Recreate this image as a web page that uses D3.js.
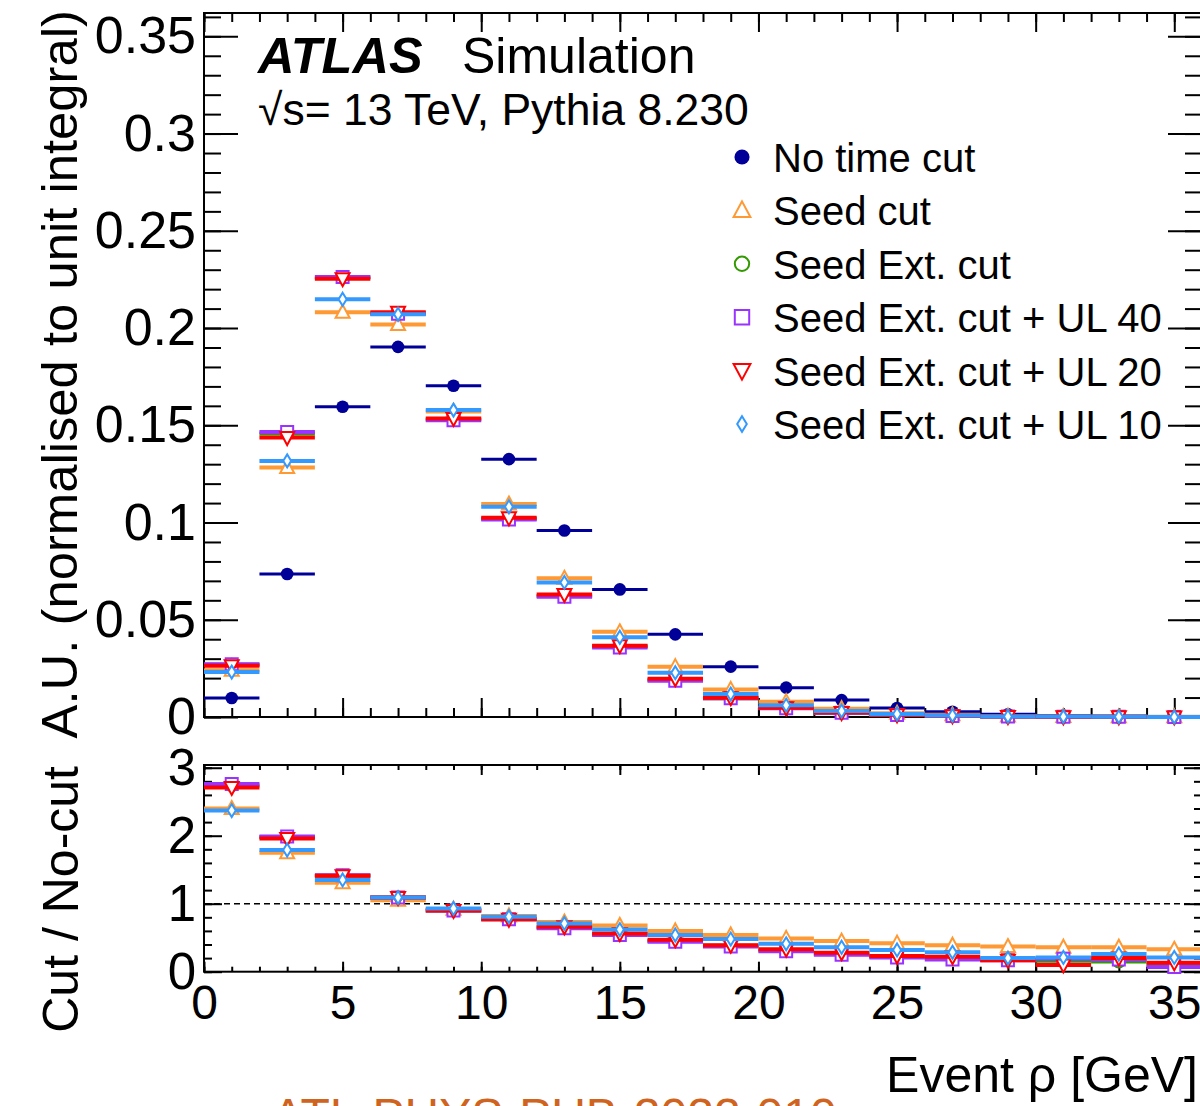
<!DOCTYPE html>
<html>
<head>
<meta charset="utf-8">
<script src="https://cdn.jsdelivr.net/npm/d3@7"></script>
<style>
  html, body { margin: 0; padding: 0; background: #fff; }
  svg { display: block; }
  text { font-family: "Liberation Sans", Arial, Helvetica, sans-serif; }
</style>
</head>
<body>
<svg id="chart" width="1200" height="1106"></svg>
<script>
// ---------------- data ----------------
const binCenters = [1,3,5,7,9,11,13,15,17,19,21,23,25,27,29,31,33,35];
const binWidth = 2;

const seriesNames = ["No time cut", "Seed cut", "Seed Ext. cut", "Seed Ext. cut + UL 40", "Seed Ext. cut + UL 20", "Seed Ext. cut + UL 10"];

const noCut      = [0.0098,0.0735,0.1595,0.1903,0.1703,0.1326,0.0959,0.0656,0.0425,0.0259,0.0151,0.0087,0.0046,0.0027,0.0014,0.0008,0.0004,0.0002];
const seedCut    = [0.0241,0.1283,0.2081,0.2018,0.1571,0.1095,0.0713,0.0438,0.0259,0.0142,0.0079,0.0043,0.0019,0.0011,0.0005,0.0003,0.0001,0.0001];
const seedExt    = [0.0269,0.1458,0.2260,0.2076,0.1530,0.1020,0.0622,0.0362,0.0190,0.0097,0.0046,0.0022,0.0010,0.0005,0.0002,0.0001,0.0001,0.0000];
const seedExtUL40= [0.0271,0.1466,0.2263,0.2074,0.1526,0.1016,0.0618,0.0358,0.0187,0.0096,0.0045,0.0022,0.0010,0.0005,0.0002,0.0001,0.0001,0.0000];
const seedExtUL20= [0.0264,0.1437,0.2254,0.2081,0.1535,0.1024,0.0630,0.0367,0.0197,0.0099,0.0048,0.0023,0.0011,0.0006,0.0002,0.0001,0.0001,0.0000];
const seedExtUL10= [0.0231,0.1317,0.2148,0.2071,0.1578,0.1081,0.0692,0.0410,0.0228,0.0118,0.0060,0.0031,0.0015,0.0008,0.0003,0.0002,0.0001,0.0000];

const ratioSeedCut     = [2.40,1.75,1.31,1.05,0.92,0.82,0.73,0.68,0.60,0.54,0.49,0.45,0.42,0.39,0.37,0.36,0.36,0.33];
const ratioSeedExt     = [2.74,1.98,1.41,1.09,0.90,0.77,0.65,0.55,0.45,0.38,0.31,0.26,0.22,0.20,0.18,0.16,0.15,0.10];
const ratioSeedExtUL40 = [2.76,1.99,1.42,1.09,0.90,0.77,0.64,0.54,0.44,0.37,0.30,0.25,0.21,0.18,0.17,0.19,0.18,0.07];
const ratioSeedExtUL20 = [2.71,1.96,1.41,1.09,0.90,0.77,0.66,0.56,0.47,0.39,0.33,0.28,0.23,0.22,0.17,0.10,0.20,0.13];
const ratioSeedExtUL10 = [2.37,1.79,1.35,1.09,0.93,0.81,0.71,0.62,0.54,0.48,0.41,0.36,0.32,0.285,0.20,0.21,0.26,0.21];

const yTopMajor = [0,0.05,0.1,0.15,0.2,0.25,0.3,0.35];
const yTopLabels = ["0","0.05","0.1","0.15","0.2","0.25","0.3","0.35"];
const yBotMajor = [0,1,2,3];
const yBotLabels = ["0","1","2","3"];
const xMajor = [0,5,10,15,20,25,30,35];
const xLabels = ["0","5","10","15","20","25","30","35"];

// ---------------- styles ----------------
const colors  = ["#000099","#ff9933","#339900","#9933ff","#ff0000","#3399ff"];
const markers = ["dot","triUp","circle","square","triDown","diamond"];
const topSeries = [noCut, seedCut, seedExt, seedExtUL40, seedExtUL20, seedExtUL10];
const ratioSeries = [null, ratioSeedCut, ratioSeedExt, ratioSeedExtUL40, ratioSeedExtUL20, ratioSeedExtUL10];

const svg = d3.select("#chart");
const FONT = "Liberation Sans, Arial, Helvetica, sans-serif";

const xLeft = 204, xRight = 1202;
const x = d3.scaleLinear().domain([0,36]).range([xLeft, xRight]);
const yT = d3.scaleLinear().domain([0,0.362]).range([717,13]);
const yB = d3.scaleLinear().domain([0,3.04]).range([971.7,765]);

function markerPath(type, s) {
  switch(type) {
    case "triUp": { const w=7*s, h=6.5*s; return `M0,${-h-1*s}L${w},${h-1*s}L${-w},${h-1*s}Z`; }
    case "triDown": { const w=7*s, h=6.5*s; return `M0,${h+1*s}L${w},${-h+1*s}L${-w},${-h+1*s}Z`; }
    case "square": { const a=6*s; return `M${-a},${-a}H${a}V${a}H${-a}Z`; }
    case "diamond": { const w=4*s, h=6.5*s; return `M0,${-h}L${w},0L0,${h}L${-w},0Z`; }
    default: return null;
  }
}
function drawMarker(g, type, color, cx, cy, s) {
  if (type === "dot") {
    g.append("circle").attr("cx",cx).attr("cy",cy).attr("r",6.3*s).attr("fill",color);
  } else if (type === "circle") {
    g.append("circle").attr("cx",cx).attr("cy",cy).attr("r",6*s).attr("fill","#fff").attr("stroke",color).attr("stroke-width",2);
  } else {
    g.append("path").attr("d", markerPath(type, s)).attr("transform",`translate(${cx},${cy})`)
      .attr("fill","#fff").attr("stroke",color).attr("stroke-width",2).attr("stroke-linejoin","miter");
  }
}

function steps(a,b,step){ const r=[]; for(let v=a; v<=b+1e-9; v+=step) r.push(+v.toFixed(6)); return r; }

function drawTicks(g, axisFn, scale, values, size, pos) {
  const ax = axisFn(scale).tickValues(values).tickSize(size).tickFormat("");
  const gg = g.append("g").attr("transform", pos).call(ax);
  gg.select(".domain").remove();
  gg.selectAll("line").attr("stroke","#000").attr("stroke-width",2);
}

// ---------------- top panel ----------------
const topG = svg.append("g");
drawTicks(topG, d3.axisLeft, yT, steps(0,0.36,0.01), -17, `translate(${xLeft},0)`);
drawTicks(topG, d3.axisLeft, yT, yTopMajor, -34, `translate(${xLeft},0)`);
drawTicks(topG, d3.axisRight, yT, steps(0,0.36,0.01), -17, `translate(${xRight},0)`);
drawTicks(topG, d3.axisRight, yT, yTopMajor, -34, `translate(${xRight},0)`);
drawTicks(topG, d3.axisBottom, x, steps(0,36,1), -9, `translate(0,${yT(0)})`);
drawTicks(topG, d3.axisBottom, x, xMajor, -19, `translate(0,${yT(0)})`);
drawTicks(topG, d3.axisTop, x, steps(0,36,1), -9, `translate(0,${yT.range()[1]})`);
drawTicks(topG, d3.axisTop, x, xMajor, -19, `translate(0,${yT.range()[1]})`);
topG.append("rect").attr("x",xLeft).attr("y",yT.range()[1]).attr("width",xRight-xLeft).attr("height",yT(0)-yT.range()[1])
  .attr("fill","none").attr("stroke","#000").attr("stroke-width",2);

const yTopLab = topG.append("g").attr("transform",`translate(${xLeft},0)`)
  .call(d3.axisLeft(yT).tickValues(yTopMajor).tickSize(0).tickPadding(8).tickFormat((d,i)=>yTopLabels[i]));
yTopLab.select(".domain").remove();
yTopLab.selectAll("text").attr("font-size",52).attr("font-family",FONT).attr("fill","#000");

topSeries.forEach((vals, si) => {
  const g = topG.append("g");
  const lw = si === 0 ? 3 : 4;
  vals.forEach((v,i) => {
    const c = binCenters[i];
    g.append("line").attr("x1",x(c-binWidth/2)).attr("x2",x(c+binWidth/2)).attr("y1",yT(v)).attr("y2",yT(v))
      .attr("stroke",colors[si]).attr("stroke-width",lw);
  });
  vals.forEach((v,i) => drawMarker(g, markers[si], colors[si], x(binCenters[i]), yT(v), 1));
});

// ---------------- bottom panel ----------------
const botG = svg.append("g");
drawTicks(botG, d3.axisLeft, yB, steps(0,3,0.2), -8, `translate(${xLeft},0)`);
drawTicks(botG, d3.axisLeft, yB, yBotMajor, -18, `translate(${xLeft},0)`);
drawTicks(botG, d3.axisRight, yB, steps(0,3,0.2), -8, `translate(${xRight},0)`);
drawTicks(botG, d3.axisRight, yB, yBotMajor, -18, `translate(${xRight},0)`);
drawTicks(botG, d3.axisBottom, x, steps(0,36,1), -5, `translate(0,${yB(0)})`);
drawTicks(botG, d3.axisBottom, x, xMajor, -10, `translate(0,${yB(0)})`);
drawTicks(botG, d3.axisTop, x, steps(0,36,1), -5, `translate(0,${yB.range()[1]})`);
drawTicks(botG, d3.axisTop, x, xMajor, -10, `translate(0,${yB.range()[1]})`);
botG.append("rect").attr("x",xLeft).attr("y",yB.range()[1]).attr("width",xRight-xLeft).attr("height",yB(0)-yB.range()[1])
  .attr("fill","none").attr("stroke","#000").attr("stroke-width",2);

botG.append("line").attr("x1",x(0)).attr("x2",x(36)).attr("y1",yB(1)).attr("y2",yB(1))
  .attr("stroke","#000").attr("stroke-width",1.6).attr("stroke-dasharray","6,4");

const yBotLab = botG.append("g").attr("transform",`translate(${xLeft},0)`)
  .call(d3.axisLeft(yB).tickValues(yBotMajor).tickSize(0).tickPadding(8).tickFormat((d,i)=>yBotLabels[i]));
yBotLab.select(".domain").remove();
yBotLab.selectAll("text").attr("font-size",51).attr("font-family",FONT).attr("fill","#000");

const xLab = botG.append("g").attr("transform",`translate(0,${yB(0)})`)
  .call(d3.axisBottom(x).tickValues(xMajor).tickSize(0).tickPadding(13).tickFormat((d,i)=>xLabels[i]));
xLab.select(".domain").remove();
xLab.selectAll("text").attr("font-size",48).attr("font-family",FONT).attr("fill","#000");

ratioSeries.forEach((vals, si) => {
  if (!vals) return;
  const g = botG.append("g");
  vals.forEach((v,i) => {
    const c = binCenters[i];
    g.append("line").attr("x1",x(c-binWidth/2)).attr("x2",x(c+binWidth/2)).attr("y1",yB(v)).attr("y2",yB(v))
      .attr("stroke",colors[si]).attr("stroke-width",4);
  });
  vals.forEach((v,i) => drawMarker(g, markers[si], colors[si], x(binCenters[i]), yB(v), 1));
});

// ---------------- axis titles ----------------
svg.append("text").attr("transform","translate(77,10) rotate(-90)").attr("text-anchor","end")
  .attr("font-size",50.8).attr("font-family",FONT).text("A.U. (normalised to unit integral)");
svg.append("text").attr("transform","translate(78,766) rotate(-90)").attr("text-anchor","end")
  .attr("font-size",50).attr("font-family",FONT).text("Cut / No-cut");
svg.append("text").attr("x",1198).attr("y",1092).attr("text-anchor","end")
  .attr("font-size",50).attr("font-family",FONT).text("Event ρ [GeV]");

// ---------------- ATLAS labels ----------------
svg.append("text").attr("x",258).attr("y",73).attr("font-size",50.5).attr("font-weight","bold").attr("font-style","italic")
  .attr("font-family",FONT).text("ATLAS");
svg.append("text").attr("x",462).attr("y",73).attr("font-size",50).attr("font-family",FONT).text("Simulation");
svg.append("text").attr("x",258).attr("y",125).attr("font-size",44.5).attr("font-family",FONT).text("√s= 13 TeV, Pythia 8.230");

// ---------------- legend ----------------
const legY0 = 157, legDy = 53.4;
seriesNames.forEach((name, si) => {
  const cy = legY0 + si*legDy;
  const g = svg.append("g");
  drawMarker(g, markers[si], colors[si], 742, cy, 1.2);
  g.append("text").attr("x",773).attr("y",cy+15).attr("font-size",40).attr("font-family",FONT).text(name);
});

svg.append("text").attr("x",272).attr("y",1132).attr("font-size",48).attr("font-family",FONT)
  .attr("fill","#cf6320").text("ATL-PHYS-PUB-2022-010");
</script>
</body>
</html>
